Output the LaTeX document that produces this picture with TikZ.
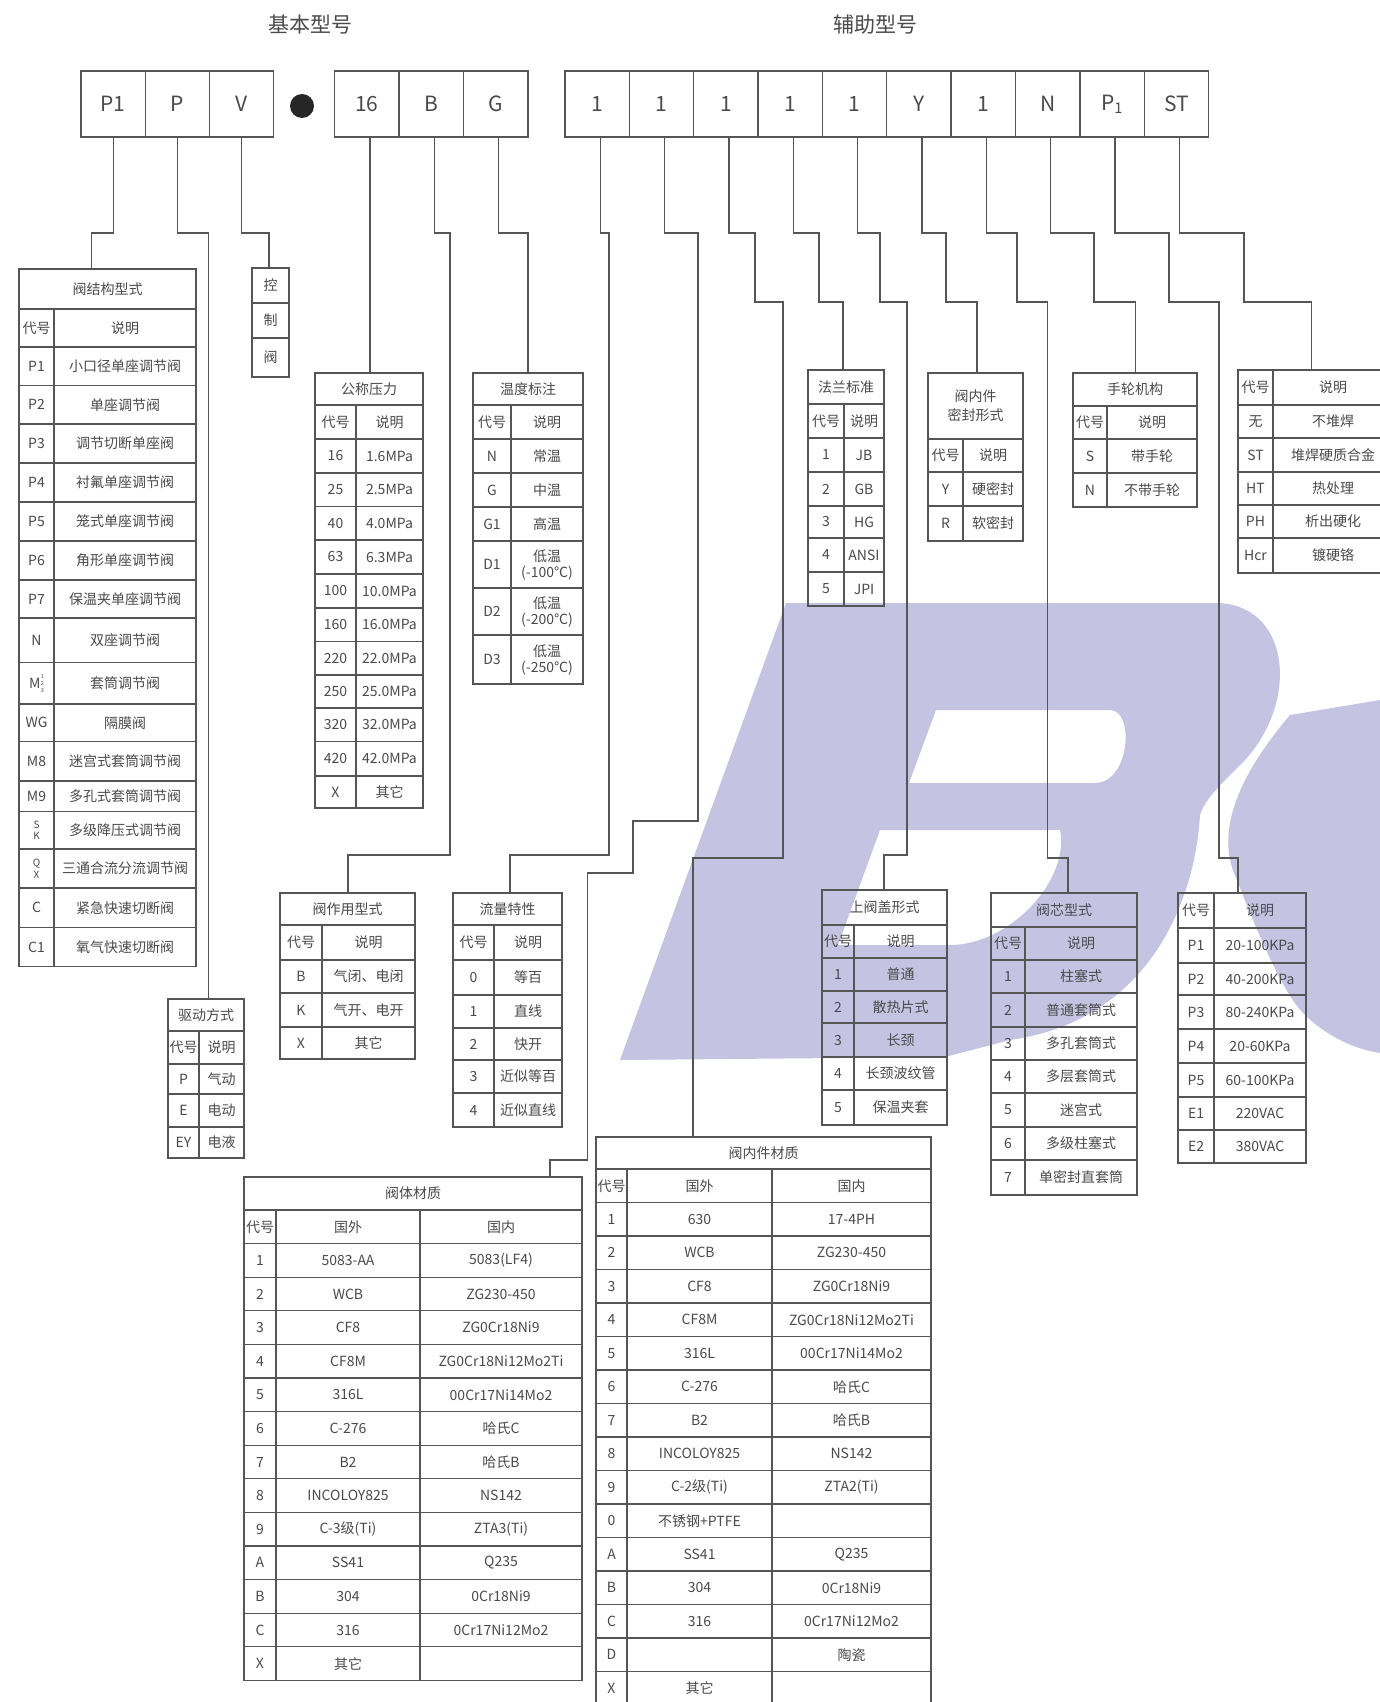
\documentclass[tikz,border=0pt]{standalone}
\usepackage{fontspec}
\newfontfamily\cjk{Noto Sans CJK SC}
\definecolor{ln}{HTML}{555555}
\definecolor{tx}{HTML}{4A4A4A}
\definecolor{wm}{HTML}{C5C3E2}
\tikzset{
  tab/.style={draw=ln, line width=1.3pt},
  conn/.style={draw=ln, line width=1.2pt},
  txt/.style={font=\cjk\fontsize{14}{16}\selectfont, text=tx, inner sep=0pt, align=center},
  ttl/.style={font=\cjk\fontsize{21}{24}\selectfont, text=tx, inner sep=0pt},
  cell/.style={draw=ln, line width=1.3pt, minimum width=64.3pt, minimum height=66pt, inner sep=0pt, font=\cjk\fontsize{21}{24}\selectfont, text=tx},
}
\newcommand\TabTitle[6]{\draw[tab] (#2,#4) rectangle (#3,#5); \node[txt] (#1) at ({(#2+#3)/2},{(#4+#5)/2}) {#6};}
\newcommand\TabTwo[5]{%
  \foreach \yt/\yb/\cc/\dd [count=\i] in {#5}{%
    \draw[tab] (#2,\yt) rectangle (#4,\yb);
    \draw[tab] (#3,\yt) -- (#3,\yb);
    \node[txt] (#1-a\i) at ({(#2+#3)/2},{(\yt+\yb)/2}) {\cc};
    \node[txt] (#1-b\i) at ({(#3+#4)/2},{(\yt+\yb)/2}) {\dd};
  }}
\newcommand\TabThree[8]{%
  \foreach \cc/\dd/\ee [count=\i from 0] in {#8}{%
    \pgfmathsetmacro\yt{#6+#7*\i}\pgfmathsetmacro\yb{#6+#7*(\i+1)}%
    \draw[tab] (#2,\yt) rectangle (#5,\yb);
    \draw[tab] (#3,\yt) -- (#3,\yb) (#4,\yt) -- (#4,\yb);
    \node[txt] (#1-a\i) at ({(#2+#3)/2},{(\yt+\yb)/2}) {\cc};
    \node[txt] (#1-b\i) at ({(#3+#4)/2},{(\yt+\yb)/2}) {\dd};
    \node[txt] (#1-c\i) at ({(#4+#5)/2},{(\yt+\yb)/2}) {\ee};
  }}
\begin{document}
\begin{tikzpicture}[x=1pt,y=-1pt]
\useasboundingbox (0,0) rectangle (1380,1702);
\clip (0,0) rectangle (1380,1702);
\fill[white] (0,0) rectangle (1380,1702);
% watermark
\fill[wm, even odd rule]
 (786,603) -- (1215,603) .. controls (1290,603) and (1300,700) .. (1245,760)
 .. controls (1215,790) and (1205,800) .. (1200,815)
 .. controls (1195,900) and (1150,1020) .. (1010,1040)
 -- (945,1057) -- (620,1060) -- cycle
 (936,710) -- (1110,710) .. controls (1135,710) and (1130,783) .. (1095,783) -- (909,783) -- cycle
 (880,830) -- (1060,830) .. controls (1070,880) and (1010,945) .. (950,945) -- (838,945) -- cycle;
\fill[wm] (1290,715) .. controls (1235,780) and (1215,835) .. (1237,880)
 .. controls (1260,940) and (1285,995) .. (1303,1013)
 .. controls (1330,1040) and (1360,1050) .. (1380,1053) -- (1380,700) -- cycle;
% titles
\node[ttl] (ttlA) at (310,25) {基本型号};
\node[ttl] (ttlB) at (875,25) {辅助型号};
% top cells
\foreach \t [count=\i] in {P1,P,V} \node[cell] (A\i) at ({81+64.2*(\i-0.5)},104) {\t};
\node[circle, fill=black!85, minimum size=24pt, inner sep=0pt] (dot) at (302,106) {};
\foreach \t [count=\i] in {16,B,G} \node[cell] (B\i) at ({334.5+64.5*(\i-0.5)},104) {\t};
\foreach \t [count=\i] in {1,1,1,1,1,Y,1,N,{P\textsubscript{1}},ST} \node[cell] (C\i) at ({565+64.36*(\i-0.5)},104) {\t};
% ---------- tables ----------
% valve structure
\TabTitle{L}{19}{196}{269}{309}{阀结构型式}
\TabTwo{L}{19}{54}{196}{309/347/代号/说明, 347/385.7/P1/小口径单座调节阀, 385.7/424/P2/单座调节阀,
 424/463/P3/调节切断单座阀, 463/502/P4/衬氟单座调节阀, 502/541/P5/笼式单座调节阀,
 541/580/P6/角形单座调节阀, 580/618/P7/保温夹单座调节阀, 618/662.7/N/双座调节阀,
 662.7/704/{M\kern.5pt\raisebox{-4pt}{\fontsize{5.5}{5.5}\selectfont\shortstack{1\\2\\3}}}/套筒调节阀,
 704/741.7/WG/隔膜阀, 741.7/781/M8/迷宫式套筒调节阀, 781/811.7/M9/多孔式套筒调节阀,
 811.7/849/{\fontsize{10}{10}\selectfont\shortstack{S\\K}}/多级降压式调节阀,
 849/888/{\fontsize{10}{10}\selectfont\shortstack{Q\\X}}/三通合流分流调节阀,
 888/927.7/C/紧急快速切断阀, 927.7/966.7/C1/氧气快速切断阀}
% control valve box
\foreach \t/\ya/\yb [count=\i] in {控/268/303, 制/303/338, 阀/338/377}{
  \draw[tab] (252,\ya) rectangle (289,\yb);
  \node[txt] (K\i) at (270.5,{(\ya+\yb)/2}) {\t};}
% drive mode
\TabTitle{D}{168}{244}{999}{1031}{驱动方式}
\TabTwo{D}{168}{199}{244}{1031/1064/代号/说明, 1064/1094/P/气动, 1094/1127/E/电动, 1127/1158/EY/电液}
% pressure
\TabTitle{P}{315}{423}{373}{405}{公称压力}
\TabTwo{P}{315}{356}{423}{405/439/代号/说明, 439/473/16/1.6MPa, 473/506.7/25/2.5MPa, 506.7/540/40/4.0MPa,
 540/574/63/6.3MPa, 574/608/100/10.0MPa, 608/641.7/160/16.0MPa, 641.7/675/220/22.0MPa,
 675/708/250/25.0MPa, 708/741.7/320/32.0MPa, 741.7/776/420/42.0MPa, 776/808/X/其它}
% temperature
\TabTitle{T}{473}{583}{373}{405}{温度标注}
\TabTwo{T}{473}{511}{583}{405/439/代号/说明, 439/473/N/常温, 473/507/G/中温, 507/541/G1/高温,
 541/588/D1/{低温\\(-100℃)}, 588/635/D2/{低温\\(-200℃)}, 635/684/D3/{低温\\(-250℃)}}
% action
\TabTitle{AC}{280}{415}{893}{925}{阀作用型式}
\TabTwo{AC}{280}{322}{415}{925/960/代号/说明, 960/993/B/气闭、电闭, 993/1027/K/气开、电开, 1027/1059/X/其它}
% flow characteristic
\TabTitle{F}{453}{562}{893}{925}{流量特性}
\TabTwo{F}{453}{494}{562}{925/960/代号/说明, 960/995/0/等百, 995/1028/1/直线, 1028/1060/2/快开,
 1060/1093/3/近似等百, 1093/1127/4/近似直线}
% flange
\TabTitle{FL}{808}{884}{370}{404}{法兰标准}
\TabTwo{FL}{808}{844}{884}{404/438/代号/说明, 438/472/1/JB, 472/506/2/GB, 506/538/3/HG, 538/572/4/ANSI, 572/606/5/JPI}
% seal
\TabTitle{SE}{928}{1023}{373}{439}{阀内件\\[3pt]密封形式}
\TabTwo{SE}{928}{963}{1023}{439/472/代号/说明, 472/506/Y/硬密封, 506/541/R/软密封}
% handwheel
\TabTitle{HW}{1073}{1197}{373}{406}{手轮机构}
\TabTwo{HW}{1073}{1107}{1197}{406/439/代号/说明, 439/473/S/带手轮, 473/507/N/不带手轮}
% hardfacing
\TabTwo{HF}{1238}{1273}{1393}{370/405/代号/说明, 405/438/无/不堆焊, 438/472/ST/堆焊硬质合金,
 472/505/HT/热处理, 505/538/PH/析出硬化, 538/573/Hcr/镀硬铬}
% bonnet
\TabTitle{BN}{822}{947}{890}{925}{上阀盖形式}
\TabTwo{BN}{822}{854}{947}{925/958/代号/说明, 958/991/1/普通, 991/1023/2/散热片式, 1023/1057/3/长颈,
 1057/1090/4/长颈波纹管, 1090/1125/5/保温夹套}
% valve core
\TabTitle{VC}{991}{1137}{893}{927}{阀芯型式}
\TabTwo{VC}{991}{1025}{1137}{927/960/代号/说明, 960/993/1/柱塞式, 993/1027/2/普通套筒式, 1027/1060/3/多孔套筒式,
 1060/1093/4/多层套筒式, 1093/1127/5/迷宫式, 1127/1160/6/多级柱塞式, 1160/1195/7/单密封直套筒}
% signal
\TabTwo{SG}{1178}{1214}{1306}{893/928/代号/说明, 928/963/P1/20-100KPa, 963/995/P2/40-200KPa,
 995/1029/P3/80-240KPa, 1029/1063/P4/20-60KPa, 1063/1097/P5/60-100KPa, 1097/1130/E1/220VAC, 1130/1163/E2/380VAC}
% body material
\TabTitle{VB}{244}{582}{1177}{1210}{阀体材质}
\TabThree{VB}{244}{276}{420}{582}{1210}{33.6}{代号/国外/国内, 1/5083-AA/5083(LF4), 2/WCB/ZG230-450, 3/CF8/ZG0Cr18Ni9,
 4/CF8M/ZG0Cr18Ni12Mo2Ti, 5/316L/00Cr17Ni14Mo2, 6/C-276/哈氏C, 7/B2/哈氏B, 8/INCOLOY825/NS142,
 9/C-3级(Ti)/ZTA3(Ti), A/SS41/Q235, B/304/0Cr18Ni9, C/316/0Cr17Ni12Mo2, X/其它/{}}
% trim material
\TabTitle{VT}{596}{931}{1137}{1169}{阀内件材质}
\TabThree{VT}{596}{627}{772}{931}{1169}{33.5}{代号/国外/国内, 1/630/17-4PH, 2/WCB/ZG230-450, 3/CF8/ZG0Cr18Ni9,
 4/CF8M/ZG0Cr18Ni12Mo2Ti, 5/316L/00Cr17Ni14Mo2, 6/C-276/哈氏C, 7/B2/哈氏B, 8/INCOLOY825/NS142,
 9/C-2级(Ti)/ZTA2(Ti), 0/不锈钢+PTFE/{}, A/SS41/Q235, B/304/0Cr18Ni9, C/316/0Cr17Ni12Mo2, D/{}/陶瓷, X/其它/{}}
% ---------- connectors ----------
\coordinate (L-in) at (91.5,269);
\coordinate (D-in) at (208.6,999);
\coordinate (K-in) at (269,268);
\coordinate (P-in) at (370,373);
\coordinate (AC-in) at (348,893);
\coordinate (T-in) at (528,373);
\coordinate (F-in) at (510,893);
\coordinate (VB-in) at (550,1177);
\coordinate (VT-in) at (693,1137);
\coordinate (FL-in) at (843,370);
\coordinate (BN-in) at (884,890);
\coordinate (SE-in) at (977,373);
\coordinate (VC-in) at (1068,893);
\coordinate (HW-in) at (1135.5,373);
\coordinate (SG-in) at (1238,893);
\coordinate (HF-in) at (1311.6,370);
\draw[conn] (A1.south) |- (91.5,233) -- (L-in);
\draw[conn] (A2.south) |- (208.6,233) -- (D-in);
\draw[conn] (A3.south) |- (269,233) -- (K-in);
\draw[conn] (B1.south -| P-in) -- (P-in);
\draw[conn] ([xshift=3pt]B2.south) |- (450,233) |- (348,855) -- (AC-in);
\draw[conn] ([xshift=3pt]B3.south) |- (528,233) -- (T-in);
\draw[conn] ([xshift=3pt]C1.south) |- (609,233) |- (510,855) -- (F-in);
\draw[conn] ([xshift=3pt]C2.south) |- (698,233) |- (633,821) |- (587.5,873) |- (550,1160) -- (VB-in);
\draw[conn] ([xshift=3pt]C3.south) |- (755,233) |- (783,302) |- (693,858) -- (VT-in);
\draw[conn] ([xshift=3pt]C4.south) |- (819,233) |- (843,302) -- (FL-in);
\draw[conn] ([xshift=3pt]C5.south) |- (880,233) |- (907,302) |- (884,855) -- (BN-in);
\draw[conn] ([xshift=3pt]C6.south) |- (946,233) |- (977,302) -- (SE-in);
\draw[conn] ([xshift=3pt]C7.south) |- (1017,233) |- (1047.5,302) |- (1068,858) -- (VC-in);
\draw[conn] ([xshift=3pt]C8.south) |- (1094,233) |- (1135.5,302) -- (HW-in);
\draw[conn] ([xshift=3pt]C9.south) |- (1169,233) |- (1219,302) |- (1238,858) -- (SG-in);
\draw[conn] ([xshift=3pt]C10.south) |- (1244,233) |- (1311.6,302) -- (HF-in);
\end{tikzpicture}
\end{document}
